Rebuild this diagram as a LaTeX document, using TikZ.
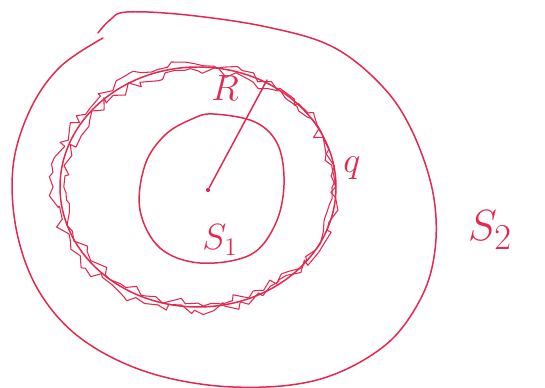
\documentclass[tikz,border=0pt]{standalone}
\usepackage{tikz}
\usetikzlibrary{decorations.pathmorphing}
\definecolor{penred}{RGB}{228, 40, 78}

\begin{document}
\begin{tikzpicture}[
    x=0.02cm, y=-0.02cm,
    pen/.style={draw=penred, line width=0.85pt, line cap=round, line join=round},
    scribble/.style={pen, line width=0.6pt, decorate,
                     decoration={random steps, segment length=4.5pt, amplitude=3pt}},
    dot/.style={circle, fill=penred, inner sep=0pt, minimum size=2.4pt},
    sketchlabel/.style={text=penred, inner sep=0pt, font=\fontsize{21}{24}\selectfont},
]
\useasboundingbox (0,0) rectangle (545,388);
\pgfmathsetseed{11}

% ============================================================
% OUTER SURFACE S2 (open hand-drawn loop)
% ============================================================
\draw[pen] plot[smooth, tension=0.6] coordinates {
    (98,33) (110,20) (127,12) (187,15) (267,27) (333,47) (383,87)
    (413,133) (433,193) (435,250) (420,300) (383,347) (317,380)
    (233,387) (150,373) (83,340) (40,293) (17,233) (13,167)
    (30,110) (60,67) (103,38)};

% ============================================================
% CHARGED SHELL (radius R, charge q)
% ============================================================
\coordinate (shellc) at (198,187);
\draw[pen] (shellc) ellipse [x radius=138, y radius=120];
\draw[scribble] (shellc) ellipse [x radius=134, y radius=116];
\draw[scribble] ([xshift=-2pt]shellc) ellipse [x radius=141, y radius=123];

% ============================================================
% INNER SURFACE S1
% ============================================================
\draw[pen] plot[smooth cycle, tension=0.6] coordinates {
    (213,114) (255,122) (278,145) (284,185) (275,225) (250,255)
    (200,263) (160,248) (140,210) (145,165) (165,135) (192,119)};

% ============================================================
% CENTRE AND RADIUS
% ============================================================
\node[dot] (centre) at (208,190) {};
\coordinate (rimpt) at (267,80);
\draw[pen] (centre) -- (rimpt);

% ============================================================
% LABELS
% ============================================================
\node[sketchlabel] (lblR)  at (225,88)  {$R$};
\node[sketchlabel] (lblq)  at (352,168) {$q$};
\node[sketchlabel] (lblS1) at (220,240) {$S_1$};
\node[sketchlabel, font=\fontsize{28}{32}\selectfont] (lblS2) at (490,230) {$S_2$};

\end{tikzpicture}
\end{document}
